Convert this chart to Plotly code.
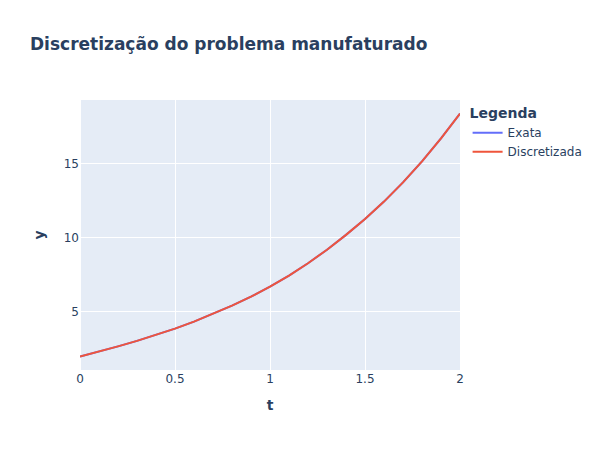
import plotly.graph_objects as go

t_values = [0.0, 0.1, 0.2, 0.3, 0.4, 0.5, 0.6, 0.7, 0.8, 0.9, 1.0,
            1.1, 1.2, 1.3, 1.4, 1.5, 1.6, 1.7, 1.8, 1.9, 2.0]
y_exata = [2.00, 2.33, 2.68, 3.05, 3.45, 3.88, 4.35, 4.86, 5.42, 6.03, 6.70,
           7.45, 8.28, 9.19, 10.19, 11.26, 12.43, 13.72, 15.14, 16.69, 18.36]
y_discretizada = [2.00, 2.33, 2.68, 3.05, 3.45, 3.88, 4.35, 4.86, 5.42, 6.03, 6.70,
                  7.45, 8.28, 9.19, 10.19, 11.26, 12.43, 13.72, 15.14, 16.69, 18.36]

fig = go.Figure()
fig.add_trace(go.Scatter(x=t_values, y=y_exata, mode="lines", name="Exata"))
fig.add_trace(go.Scatter(x=t_values, y=y_discretizada, mode="lines", name="Discretizada"))

fig.update_layout(
    template="plotly",
    width=600, height=450,
    font=dict(family="Verdana, DejaVu Sans, sans-serif"),
    title=dict(text="<b>Discretização do problema manufaturado</b>"),
    xaxis=dict(title=dict(text="<b>t</b>")),
    yaxis=dict(title=dict(text="<b>y</b>")),
    legend=dict(title=dict(text="<b>Legenda</b>")),
)

fig.write_html("out.html")
